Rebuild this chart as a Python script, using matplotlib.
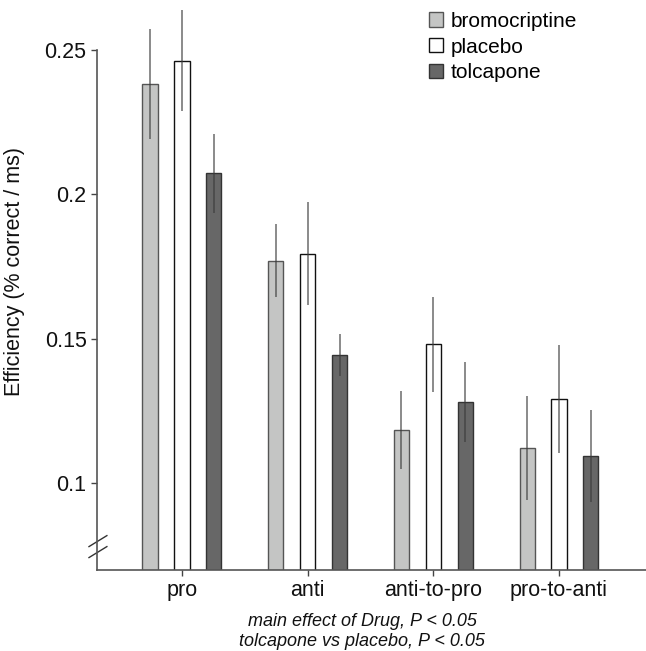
import numpy as np
import matplotlib
matplotlib.use("Agg")
import matplotlib.pyplot as plt
import matplotlib.transforms as mtransforms

plt.rcParams['font.family'] = ['Liberation Sans', 'DejaVu Sans']

# data
conditions = ['pro', 'anti', 'anti-to-pro', 'pro-to-anti']
drugs = ['bromocriptine', 'placebo', 'tolcapone']
bromocriptine = [0.2382, 0.1771, 0.1184, 0.1122]
placebo = [0.2462, 0.1795, 0.1481, 0.1292]
tolcapone = [0.2073, 0.1444, 0.1281, 0.1094]
bromocriptine_err = [0.0190, 0.0127, 0.0135, 0.0180]
placebo_err = [0.0175, 0.0177, 0.0165, 0.0188]
tolcapone_err = [0.0137, 0.0073, 0.0139, 0.0160]

means = [bromocriptine, placebo, tolcapone]
errs = [bromocriptine_err, placebo_err, tolcapone_err]
faces = ['#c4c5c4', '#ffffff', '#676767']
edges = ['#555555', '#111111', '#333333']

fig = plt.figure(figsize=(6.46, 6.51), dpi=100)
ax = fig.add_axes([97 / 646, 1 - 570 / 651, 549 / 646, 562 / 651])

x = np.arange(len(conditions))
width = 0.12
offsets = [-0.254, 0.0, 0.254]
for i, d in enumerate(drugs):
    ax.bar(x + offsets[i], means[i], width, bottom=0, color=faces[i],
           edgecolor=edges[i], linewidth=1.0, label=d, zorder=2)
    ax.errorbar(x + offsets[i], means[i], yerr=errs[i], fmt='none',
                ecolor='#3a3a3a', alpha=0.75, elinewidth=1.1, capsize=0, zorder=3)

ax.set_ylim(0.07, 0.2645)
ax.set_xlim(-0.676, 3.692)
ax.set_yticks([0.1, 0.15, 0.2, 0.25])
ax.set_yticklabels(['0.1', '0.15', '0.2', '0.25'])
ax.set_xticks(x)
ax.set_xticklabels(conditions)
ax.tick_params(axis='both', labelsize=15.5, length=4, width=1, color='#444444',
               labelcolor='#111111', pad=3.5)

for s in ['top', 'right']:
    ax.spines[s].set_visible(False)
ax.spines['left'].set_bounds(0.07, 0.25)
for s in ['left', 'bottom']:
    ax.spines[s].set_color('#555555')
    ax.spines[s].set_linewidth(1.2)

ax.set_ylabel('Efficiency (% correct / ms)', fontsize=15.5, color='#111111')
ax.yaxis.set_label_coords(-0.131, 0.532)

# axis break marks
trans = mtransforms.blended_transform_factory(ax.transAxes, ax.transData)
for y0, y1 in [(0.0781, 0.0819), (0.0743, 0.0781)]:
    ax.plot([-0.0146, 0.018], [y0, y1], color='#333333', lw=1.0,
            transform=trans, clip_on=False)

leg = ax.legend(loc='upper left', bbox_to_anchor=(0.605, 0.993), frameon=False,
                fontsize=15, handlelength=0.68, handleheight=0.68,
                handletextpad=0.35, labelspacing=0.32, borderaxespad=0,
                borderpad=0)

fig.text(362 / 646, 1 - 621 / 651, 'main effect of Drug, P < 0.05',
         ha='center', va='center', style='italic', fontsize=13, color='#111111')
fig.text(362 / 646, 1 - 641 / 651, 'tolcapone vs placebo, P < 0.05',
         ha='center', va='center', style='italic', fontsize=13, color='#111111')

fig.savefig('out.png', dpi=100)
